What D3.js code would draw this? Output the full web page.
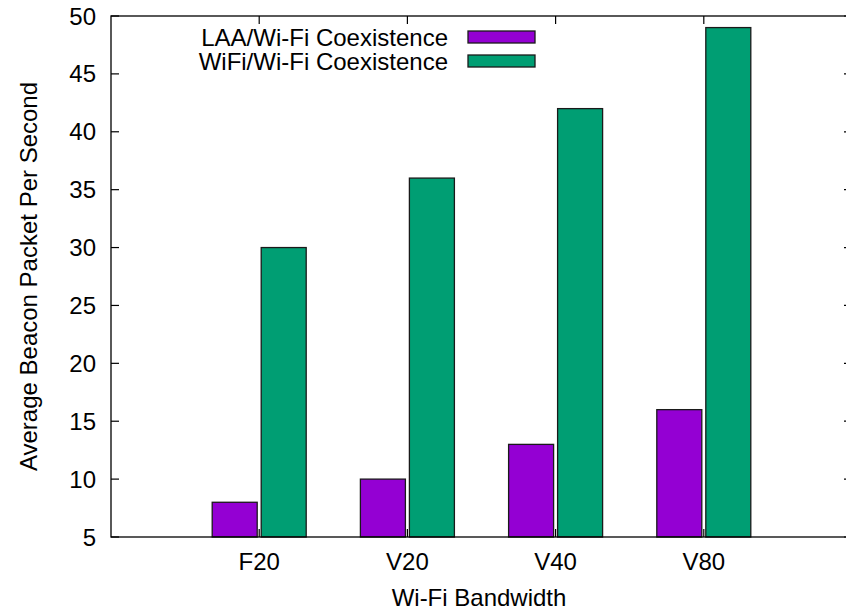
<!DOCTYPE html>
<html>
<head>
<meta charset="utf-8">
<script src="https://cdn.jsdelivr.net/npm/d3@7"></script>
<style>
  body { margin: 0; background: #fff; }
  svg { display: block; font-family: "Liberation Sans", Arial, sans-serif; }
</style>
</head>
<body>
<svg id="chart" width="846" height="610"></svg>
<script>
// chart data
const categories = ["F20", "V20", "V40", "V80"];
const seriesNames = ["LAA/Wi-Fi Coexistence", "WiFi/Wi-Fi Coexistence"];
const laaValues = [8, 10, 13, 16];
const wifiValues = [30, 36, 42, 49];
const yTicks = [5, 10, 15, 20, 25, 30, 35, 40, 45, 50];
const colors = ["#9400d3", "#009e73"];

const svg = d3.select("#chart");
const plotLeft = 111, plotRight = 852, plotTop = 16, plotBottom = 537;
const fontSize = 24;

// x in gnuplot-like units: category index, range -1..4
const x = d3.scaleLinear().domain([-1, 4]).range([plotLeft, plotRight]);
const y = d3.scaleLinear().domain([5, 50]).range([plotBottom, plotTop]);
const barW = 45;
const gap = 2;

const g = svg.append("g");

// bars
const series = [laaValues, wifiValues];
series.forEach((vals, s) => {
  g.selectAll(".bar" + s)
    .data(vals)
    .join("rect")
    .attr("x", (d, i) => s === 0 ? x(i) - gap - barW : x(i) + gap)
    .attr("y", d => y(d))
    .attr("width", barW)
    .attr("height", d => y(5) - y(d))
    .attr("fill", colors[s])
    .attr("stroke", "#1a1a1a")
    .attr("stroke-width", 1.3);
});

// frame
g.append("rect")
  .attr("x", plotLeft).attr("y", plotTop)
  .attr("width", plotRight - plotLeft).attr("height", plotBottom - plotTop)
  .attr("fill", "none").attr("stroke", "#000").attr("stroke-width", 1.3);

// y ticks (left and mirrored right, inward)
const tickLen = 8;
yTicks.forEach(t => {
  g.append("line").attr("x1", plotLeft).attr("x2", plotLeft + tickLen)
    .attr("y1", y(t)).attr("y2", y(t)).attr("stroke", "#000").attr("stroke-width", 1.2);
  g.append("line").attr("x1", plotRight - tickLen).attr("x2", plotRight)
    .attr("y1", y(t)).attr("y2", y(t)).attr("stroke", "#000").attr("stroke-width", 1.2);
  g.append("text").attr("x", 96).attr("y", y(t))
    .attr("text-anchor", "end").attr("dominant-baseline", "central")
    .attr("font-size", fontSize).attr("fill", "#000").text(t);
});

// x ticks (bottom and top, inward)
categories.forEach((c, i) => {
  g.append("line").attr("x1", x(i)).attr("x2", x(i))
    .attr("y1", plotBottom).attr("y2", plotBottom - tickLen).attr("stroke", "#000").attr("stroke-width", 1.2);
  g.append("line").attr("x1", x(i)).attr("x2", x(i))
    .attr("y1", plotTop).attr("y2", plotTop + tickLen).attr("stroke", "#000").attr("stroke-width", 1.2);
  g.append("text").attr("x", x(i)).attr("y", 561)
    .attr("text-anchor", "middle").attr("dominant-baseline", "central")
    .attr("font-size", fontSize).attr("fill", "#000").text(c);
});

// axis labels
g.append("text").attr("x", 479).attr("y", 597)
  .attr("text-anchor", "middle").attr("dominant-baseline", "central")
  .attr("font-size", fontSize).text("Wi-Fi Bandwidth");
g.append("text")
  .attr("transform", `translate(28,${(plotTop + plotBottom) / 2}) rotate(-90)`)
  .attr("text-anchor", "middle").attr("dominant-baseline", "central")
  .attr("font-size", fontSize).text("Average Beacon Packet Per Second");

// legend
seriesNames.forEach((name, i) => {
  const ly = 37 + i * 24;
  g.append("text").attr("x", 448).attr("y", ly)
    .attr("text-anchor", "end").attr("dominant-baseline", "central")
    .attr("font-size", fontSize).text(name);
  g.append("rect").attr("x", 468).attr("y", ly - 6)
    .attr("width", 67).attr("height", 12)
    .attr("fill", colors[i]).attr("stroke", "#1a1a1a").attr("stroke-width", 1.3);
});
</script>
</body>
</html>
